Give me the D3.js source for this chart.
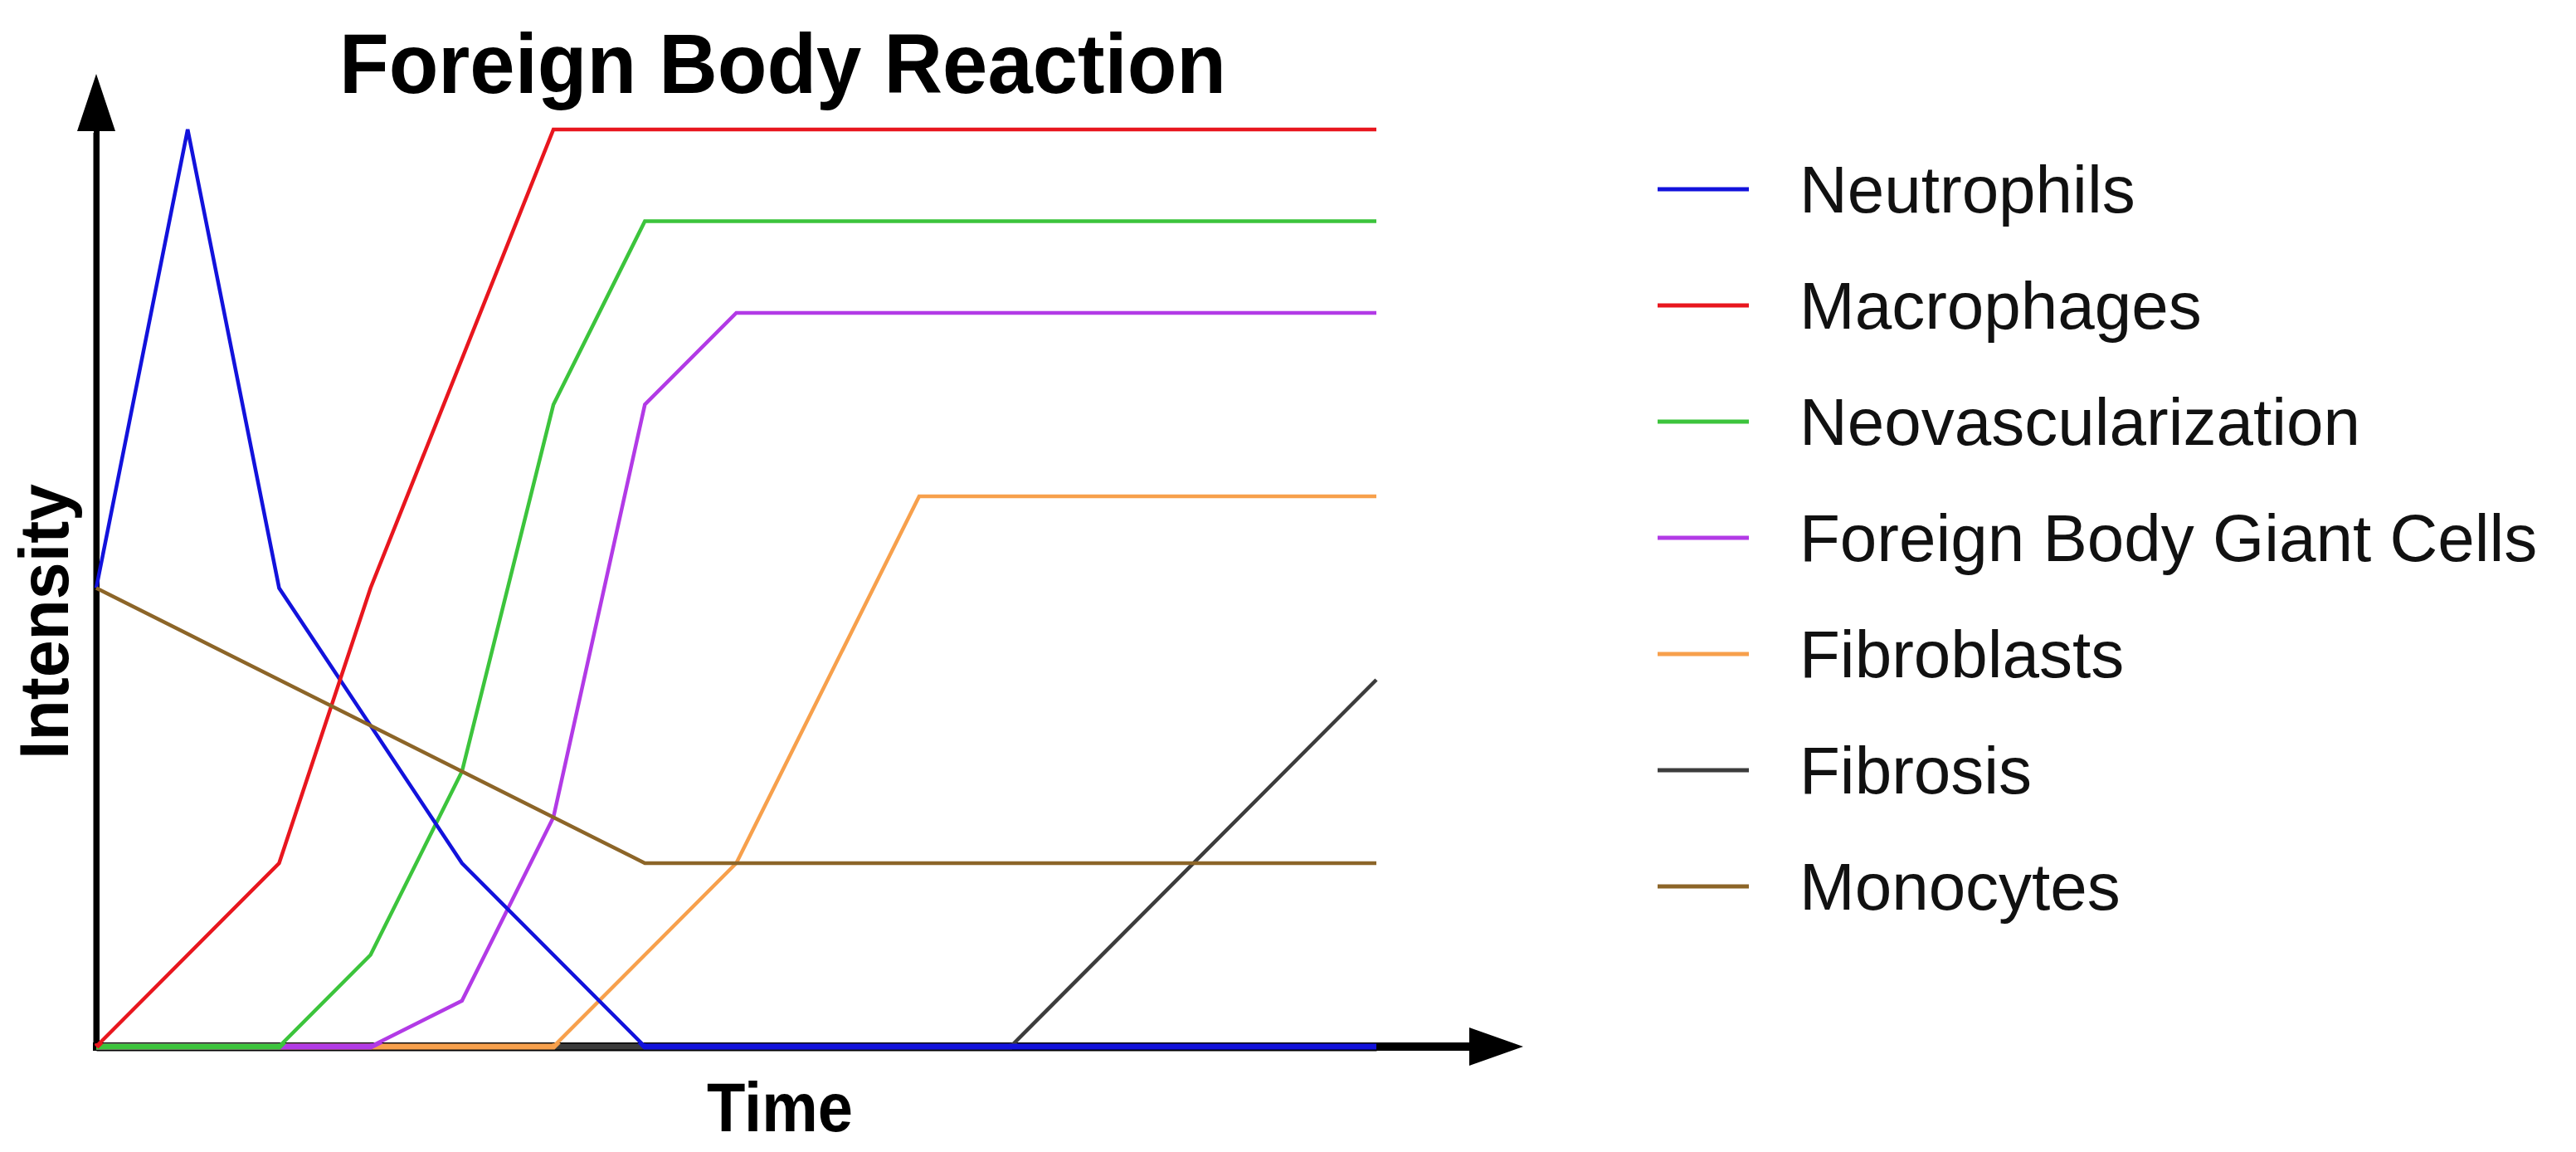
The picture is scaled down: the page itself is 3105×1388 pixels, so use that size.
<!DOCTYPE html>
<html>
<head>
<meta charset="utf-8">
<script src="https://cdn.jsdelivr.net/npm/d3@7"></script>
<style>
  html, body { margin: 0; padding: 0; background: #ffffff; }
  svg { display: block; }
</style>
</head>
<body>
<svg id="chart" width="3105" height="1388"></svg>
<script>
// ---------- DATA (vertices; time steps 0..14, intensity 0..10) ----------
const titleText = "Foreign Body Reaction";
const xLabel = "Time";
const yLabel = "Intensity";

const legendOrder = ["Neutrophils", "Macrophages", "Neovascularization",
                     "Foreign Body Giant Cells", "Fibroblasts", "Fibrosis", "Monocytes"];
const seriesColors = ["#1212dc", "#e8161e", "#3cc43c", "#b23ae6", "#f7a04c", "#3c3c3c", "#8c6528"];

const neutrophilsT = [0, 1, 2, 4, 6, 14];
const neutrophilsV = [5, 10, 5, 2, 0, 0];

const macrophagesT = [0, 2, 3, 5, 14];
const macrophagesV = [0, 2, 5, 10, 10];

const neovascT = [0, 2, 3, 4, 5, 6, 14];
const neovascV = [0, 0, 1, 3, 7, 9, 9];

const giantCellsT = [0, 3, 4, 5, 6, 7, 14];
const giantCellsV = [0, 0, 0.5, 2.5, 7, 8, 8];

const fibroblastsT = [0, 5, 7, 9, 14];
const fibroblastsV = [0, 0, 2, 6, 6];

const fibrosisT = [0, 10, 14];
const fibrosisV = [0, 0, 4];

const monocytesT = [0, 6, 14];
const monocytesV = [5, 2, 2];

// drawing order (bottom -> top), as seen where lines overlap on the baseline
const drawOrder = ["Fibrosis", "Fibroblasts", "Foreign Body Giant Cells",
                   "Neovascularization", "Neutrophils", "Macrophages", "Monocytes"];

// ---------- BUILD ----------
const seriesData = {
  "Neutrophils": [neutrophilsT, neutrophilsV],
  "Macrophages": [macrophagesT, macrophagesV],
  "Neovascularization": [neovascT, neovascV],
  "Foreign Body Giant Cells": [giantCellsT, giantCellsV],
  "Fibroblasts": [fibroblastsT, fibroblastsV],
  "Fibrosis": [fibrosisT, fibrosisV],
  "Monocytes": [monocytesT, monocytesV]
};
const colorOf = d3.scaleOrdinal().domain(legendOrder).range(seriesColors);

const svg = d3.select("#chart");

const x = d3.scaleLinear().domain([0, 14]).range([116, 1659]);
const y = d3.scaleLinear().domain([0, 10]).range([1261, 156]);

const x0 = x(0), y0 = y(0);

// ---------- AXES (no ticks; arrows) ----------
const axisG = svg.append("g");
const xAxis = d3.axisBottom(x).tickValues([]).tickSizeOuter(0);
const yAxis = d3.axisLeft(y).tickValues([]).tickSizeOuter(0);

axisG.append("g").attr("transform", `translate(0,${y0})`).call(xAxis)
  .select(".domain").attr("stroke", "#000").attr("stroke-width", 10);
axisG.append("g").attr("transform", `translate(${x0},0)`).call(yAxis)
  .select(".domain").attr("stroke", "#000").attr("stroke-width", 7);

// extensions to arrowheads
const xArrowBase = 1771, xArrowTip = 1836, xArrowHalf = 23;
const yArrowBase = 158, yArrowTip = 89, yArrowHalf = 23;
axisG.append("line").attr("x1", x0 - 4).attr("x2", xArrowBase + 2)
  .attr("y1", y0).attr("y2", y0).attr("stroke", "#000").attr("stroke-width", 10);
axisG.append("line").attr("x1", x0).attr("x2", x0)
  .attr("y1", y0 + 5).attr("y2", yArrowBase + 2).attr("stroke", "#000").attr("stroke-width", 7);
axisG.append("path")
  .attr("d", `M${xArrowBase},${y0 - xArrowHalf}L${xArrowTip},${y0}L${xArrowBase},${y0 + xArrowHalf}Z`)
  .attr("fill", "#000");
axisG.append("path")
  .attr("d", `M${x0 - yArrowHalf},${yArrowBase}L${x0},${yArrowTip}L${x0 + yArrowHalf},${yArrowBase}Z`)
  .attr("fill", "#000");

// ---------- LINES ----------
const line = d3.line().x(d => x(d[0])).y(d => y(d[1]));

svg.append("defs").append("clipPath").attr("id", "baseClip")
  .append("rect").attr("x", x0 - 2).attr("y", y0 - 4).attr("width", x(14) - x0 + 4).attr("height", 8);

const linesG = svg.append("g");
drawOrder.forEach(name => {
  const [ts, vs] = seriesData[name];
  const pts = ts.map((t, i) => [t, vs[i]]);
  // thicker band where the series sits on the baseline
  linesG.append("path").datum(pts)
    .attr("d", line)
    .attr("fill", "none")
    .attr("stroke", colorOf(name))
    .attr("stroke-width", 7)
    .attr("clip-path", "url(#baseClip)");
  linesG.append("path").datum(pts)
    .attr("d", line)
    .attr("fill", "none")
    .attr("stroke", colorOf(name))
    .attr("stroke-width", 4.5)
    .attr("stroke-linejoin", "miter");
});

// ---------- TEXT ----------
svg.append("text")
  .attr("x", 409).attr("y", 112)
  .attr("font-family", "'Liberation Sans', Arial, sans-serif")
  .attr("font-weight", "bold").attr("font-size", 102)
  .attr("textLength", 1069).attr("lengthAdjust", "spacingAndGlyphs")
  .attr("fill", "#000")
  .text(titleText);

svg.append("text")
  .attr("x", 940).attr("y", 1363)
  .attr("text-anchor", "middle")
  .attr("font-family", "'Liberation Sans', Arial, sans-serif")
  .attr("font-weight", "bold").attr("font-size", 84)
  .attr("textLength", 176).attr("lengthAdjust", "spacingAndGlyphs")
  .attr("fill", "#000")
  .text(xLabel);

svg.append("text")
  .attr("transform", "translate(82,749) rotate(-90)")
  .attr("text-anchor", "middle")
  .attr("font-family", "'Liberation Sans', Arial, sans-serif")
  .attr("font-weight", "bold").attr("font-size", 83)
  .attr("textLength", 332).attr("lengthAdjust", "spacingAndGlyphs")
  .attr("fill", "#000")
  .text(yLabel);

// ---------- LEGEND ----------
const legendY = d3.scalePoint().domain(legendOrder).range([228, 1068]);
const legendG = svg.append("g");
legendOrder.forEach(name => {
  const ly = legendY(name);
  legendG.append("line")
    .attr("x1", 1998).attr("x2", 2108).attr("y1", ly).attr("y2", ly)
    .attr("stroke", colorOf(name)).attr("stroke-width", 5);
  legendG.append("text")
    .attr("x", 2169).attr("y", ly + 28)
    .attr("font-family", "'Liberation Sans', Arial, sans-serif")
    .attr("font-size", 80).attr("fill", "#111")
    .text(name);
});
</script>
</body>
</html>
